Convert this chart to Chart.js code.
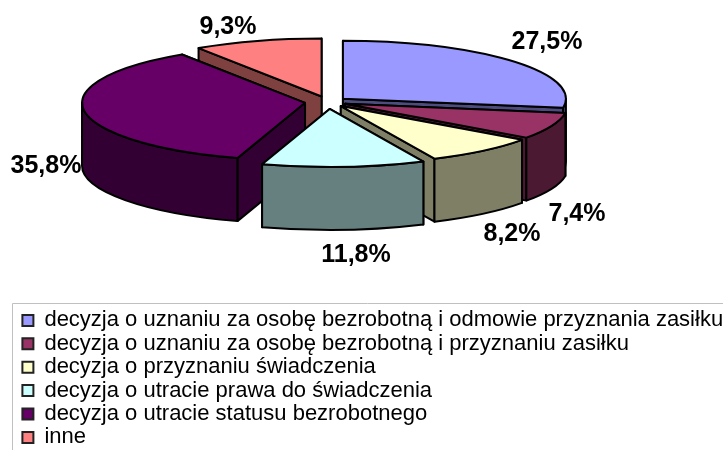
<!DOCTYPE html>
<html><head><meta charset="utf-8">
<style>html,body{margin:0;padding:0;background:#fff}canvas{display:block}</style>
<script src="https://cdn.jsdelivr.net/npm/chart.js@4"></script>
</head><body><canvas id="c" width="723" height="450"></canvas>
<script>
const categories = [
  'decyzja o uznaniu za osobę bezrobotną i odmowie przyznania zasiłku',
  'decyzja o uznaniu za osobę bezrobotną i przyznaniu zasiłku',
  'decyzja o przyznaniu świadczenia',
  'decyzja o utracie prawa do świadczenia',
  'decyzja o utracie statusu bezrobotnego',
  'inne'
];
const values = [27.5, 7.4, 8.2, 11.8, 35.8, 9.3];
const valueLabels = ['27,5%', '7,4%', '8,2%', '11,8%', '35,8%', '9,3%'];
const colors = ['#9999FF', '#993366', '#FFFFCC', '#CCFFFF', '#660066', '#FF8080'];
const explode = [8.8, 8.3, 9, 12, 10.4, 10];

const view = {cx: 328, cy: 102, rx: 223, ry: 58, depth: 63};
const paintOrder = [5, 0, 4, 1, 2, 3];
const labelAt = [[547, 42], [577, 214], [512, 234], [356, 255], [46, 166], [228, 27]];
const legendFrame = {left: 12, top: 303.5};
const legendAt = {left: 21, top: 308};

function dark(hex) {
  const n = parseInt(hex.slice(1), 16);
  return `rgb(${(n >> 16 & 255) >> 1},${(n >> 8 & 255) >> 1},${(n & 255) >> 1})`;
}
const pie3d = {
  id: 'pie3d',
  afterLayout(chart) {
    chart.legend.left = legendAt.left;
    chart.legend.top = legendAt.top;
  },
  beforeDatasetsDraw(chart) {
    const ctx = chart.ctx, meta = chart.getDatasetMeta(0);
    ctx.save();
    ctx.lineWidth = 2; ctx.lineJoin = 'round'; ctx.strokeStyle = '#000';
    paintOrder.forEach(i => {
      const arc = meta.data[i], s = arc.startAngle, e = arc.endAngle, mid = (s + e) / 2;
      const f = explode[i] / 100;
      const ax = view.cx + view.rx * f * Math.cos(mid), ay = view.cy + view.ry * f * Math.sin(mid);
      const pt = a => [ax + view.rx * Math.cos(a), ay + view.ry * Math.sin(a)];
      const side = dark(colors[i]);
      const shape = (fill, build) => { ctx.beginPath(); build(); ctx.closePath(); ctx.fillStyle = fill; ctx.fill(); ctx.stroke(); };
      [s, e].sort((p, q) => Math.sin(p) - Math.sin(q)).forEach(a => {
        const p = pt(a);
        shape(side, () => {
          ctx.moveTo(ax, ay); ctx.lineTo(p[0], p[1]);
          ctx.lineTo(p[0], p[1] + view.depth); ctx.lineTo(ax, ay + view.depth);
        });
      });
      const w0 = Math.max(s, 0), w1 = Math.min(e, Math.PI);
      if (w1 > w0) {
        shape(side, () => {
          ctx.ellipse(ax, ay, view.rx, view.ry, 0, w0, w1);
          ctx.ellipse(ax, ay + view.depth, view.rx, view.ry, 0, w1, w0, true);
        });
      }
      shape(colors[i], () => {
        ctx.moveTo(ax, ay);
        ctx.ellipse(ax, ay, view.rx, view.ry, 0, s, e);
      });
    });
    ctx.fillStyle = '#000';
    ctx.font = 'bold 25px "Liberation Sans", Arial, sans-serif';
    ctx.textAlign = 'center'; ctx.textBaseline = 'middle';
    valueLabels.forEach((t, i) => ctx.fillText(t, labelAt[i][0], labelAt[i][1]));
    ctx.restore();
    return false;
  },
  beforeDraw(chart) {
    const ctx = chart.ctx;
    ctx.save();
    ctx.fillStyle = '#fff'; ctx.fillRect(0, 0, chart.width, chart.height);
    ctx.strokeStyle = '#c0c0c0'; ctx.lineWidth = 1;
    ctx.beginPath();
    ctx.moveTo(legendFrame.left + 0.5, chart.height);
    ctx.lineTo(legendFrame.left + 0.5, legendFrame.top);
    ctx.lineTo(chart.width, legendFrame.top);
    ctx.stroke();
    ctx.restore();
  }
};
new Chart(document.getElementById('c'), {
  type: 'pie',
  data: {labels: categories, datasets: [{data: values, backgroundColor: colors, borderColor: '#222', borderWidth: 2}]},
  options: {
    responsive: false, animation: false,
    plugins: {
      tooltip: {enabled: false},
      legend: {
        position: 'chartArea', align: 'start',
        labels: {boxWidth: 11, boxHeight: 11, padding: 1.4, color: '#000', font: {family: '"Liberation Sans", Arial, sans-serif', size: 22}}
      }
    }
  },
  plugins: [pie3d]
});
</script></body></html>
